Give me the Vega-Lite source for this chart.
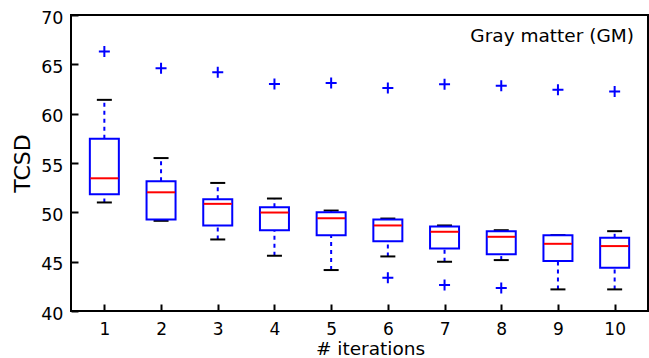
{
  "$schema": "https://vega.github.io/schema/vega-lite/v6.json",
  "autosize": "none",
  "width": 577,
  "height": 296,
  "padding": {"left": 71, "top": 15, "right": 1, "bottom": 47},
  "config": {
    "font": "DejaVu Sans",
    "view": {"stroke": "black", "strokeWidth": 2},
    "axis": {"grid": false, "domain": false, "labelColor": "black", "titleColor": "black", "tickColor": "black", "labelFont": "DejaVu Sans", "titleFont": "DejaVu Sans", "titleFontWeight": "normal"}
  },
  "datasets": {
    "boxes": [
      {"it": 1, "lo": 51.0, "q1": 51.83, "med": 53.45, "q3": 57.46, "hi": 61.4},
      {"it": 2, "lo": 49.14, "q1": 49.27, "med": 52.03, "q3": 53.15, "hi": 55.5},
      {"it": 3, "lo": 47.25, "q1": 48.67, "med": 50.86, "q3": 51.33, "hi": 52.98},
      {"it": 4, "lo": 45.6, "q1": 48.19, "med": 49.98, "q3": 50.52, "hi": 51.4},
      {"it": 5, "lo": 44.15, "q1": 47.69, "med": 49.4, "q3": 50.01, "hi": 50.18},
      {"it": 6, "lo": 45.53, "q1": 47.08, "med": 48.67, "q3": 49.27, "hi": 49.37},
      {"it": 7, "lo": 44.99, "q1": 46.34, "med": 48.03, "q3": 48.56, "hi": 48.67},
      {"it": 8, "lo": 45.16, "q1": 45.76, "med": 47.52, "q3": 48.09, "hi": 48.19},
      {"it": 9, "lo": 42.19, "q1": 45.06, "med": 46.81, "q3": 47.69, "hi": 47.69},
      {"it": 10, "lo": 42.19, "q1": 44.39, "med": 46.58, "q3": 47.42, "hi": 48.09}
    ],
    "outliers": [
      {"it": 1, "v": 66.3},
      {"it": 2, "v": 64.6},
      {"it": 3, "v": 64.2},
      {"it": 4, "v": 63.0},
      {"it": 5, "v": 63.1},
      {"it": 6, "v": 62.59},
      {"it": 6, "v": 43.38},
      {"it": 7, "v": 62.99},
      {"it": 7, "v": 42.63},
      {"it": 8, "v": 62.82},
      {"it": 8, "v": 42.33},
      {"it": 9, "v": 62.42},
      {"it": 10, "v": 62.25}
    ],
    "label": [{"x": 10.34, "y": 67.9, "t": "Gray matter (GM)"}]
  },
  "encoding": {
    "x": {"field": "it", "type": "quantitative", "scale": {"domain": [0.5, 10.5], "nice": false, "zero": false},
      "axis": {"values": [1,2,3,4,5,6,7,8,9,10], "title": "# iterations", "labelFontSize": 17, "titleFontSize": 18.5, "tickSize": -7, "tickWidth": 2, "labelPadding": 17, "titlePadding": 2, "titleX": 299, "titleAnchor": "start", "titleAlign": "center"}}
  },
  "layer": [
    {
      "data": {"name": "boxes"},
      "mark": {"type": "rule", "color": "blue", "strokeWidth": 2, "strokeDash": [4, 4]},
      "encoding": {"y": {"field": "lo", "type": "quantitative", "scale": {"domain": [40, 70], "nice": false, "zero": false},
        "axis": {"values": [40,45,50,55,60,65,70], "title": "TCSD", "labelFontSize": 17.5, "titleFontSize": 22, "tickSize": -7, "tickWidth": 2, "labelPadding": 15, "labelOffset": 3, "titlePadding": 6}}, "y2": {"field": "q1"}}
    },
    {
      "data": {"name": "boxes"},
      "mark": {"type": "rule", "color": "blue", "strokeWidth": 2, "strokeDash": [4, 4]},
      "encoding": {"y": {"field": "q3", "type": "quantitative"}, "y2": {"field": "hi"}}
    },
    {
      "data": {"name": "boxes"},
      "mark": {"type": "tick", "orient": "horizontal", "color": "black", "size": 15, "thickness": 2, "opacity": 1},
      "encoding": {"y": {"field": "lo", "type": "quantitative"}}
    },
    {
      "data": {"name": "boxes"},
      "mark": {"type": "tick", "orient": "horizontal", "color": "black", "size": 15, "thickness": 2, "opacity": 1},
      "encoding": {"y": {"field": "hi", "type": "quantitative"}}
    },
    {
      "data": {"name": "boxes"},
      "mark": {"type": "bar", "width": 29, "fill": "white", "stroke": "blue", "strokeWidth": 2},
      "encoding": {"y": {"field": "q1", "type": "quantitative"}, "y2": {"field": "q3"}}
    },
    {
      "data": {"name": "boxes"},
      "mark": {"type": "tick", "orient": "horizontal", "color": "red", "size": 28, "thickness": 2, "opacity": 1},
      "encoding": {"y": {"field": "med", "type": "quantitative"}}
    },
    {
      "data": {"name": "outliers"},
      "mark": {"type": "point", "shape": "M-1,0H1M0,-1V1", "filled": false, "stroke": "blue", "strokeWidth": 2, "size": 121, "opacity": 1},
      "encoding": {"y": {"field": "v", "type": "quantitative"}}
    },
    {
      "data": {"name": "label"},
      "mark": {"type": "text", "align": "right", "baseline": "middle", "fontSize": 18.5, "color": "black"},
      "encoding": {"x": {"field": "x", "type": "quantitative"}, "y": {"field": "y", "type": "quantitative"}, "text": {"field": "t"}}
    }
  ]
}
